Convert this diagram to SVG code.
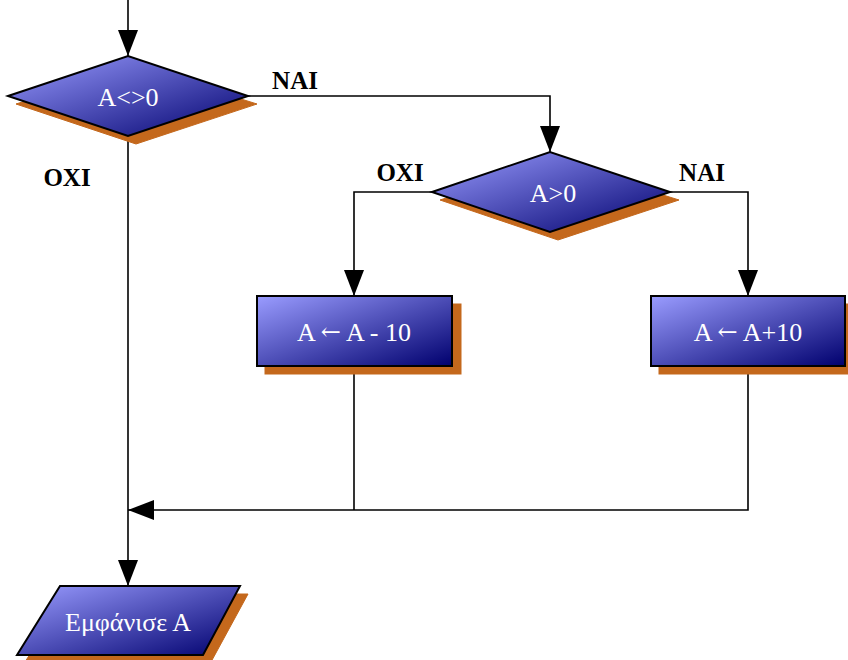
<svg xmlns="http://www.w3.org/2000/svg" width="848" height="660" viewBox="0 0 848 660">
<style>
.shadow{fill:#c4681c;stroke:#c4681c;stroke-width:1}
.shape{fill:url(#g);stroke:#000;stroke-width:2}
.lbl{font-family:"Liberation Serif",serif;font-size:26px;fill:#fff;text-anchor:middle;dominant-baseline:central}
.ar{font-family:"DejaVu Serif",serif;font-size:24px}
.yn{font-family:"Liberation Serif",serif;font-size:25px;font-weight:bold;fill:#000;text-anchor:middle;dominant-baseline:central}
.conn{fill:none;stroke:#000;stroke-width:1.6}
</style>
<defs>
<linearGradient id="g" x1="0" y1="0" x2="1" y2="1">
<stop offset="0" stop-color="#9a9cff"/>
<stop offset="1" stop-color="#00006e"/>
</linearGradient>
<marker id="arr" markerUnits="userSpaceOnUse" markerWidth="28" markerHeight="20" refX="26" refY="10" orient="auto">
<path d="M0,0 L26,10 L0,20 Z" fill="#000"/>
</marker>
</defs>
<g id="connectors">
<path class="conn" d="M128,0 V56" marker-end="url(#arr)"/>
<path class="conn" d="M248,96 H550 V152" marker-end="url(#arr)"/>
<path class="conn" d="M128,136 V586" marker-end="url(#arr)"/>
<path class="conn" d="M432,192 H354 V296" marker-end="url(#arr)"/>
<path class="conn" d="M670,192 H748 V296" marker-end="url(#arr)"/>
<path class="conn" d="M354,366 V510"/>
<path class="conn" d="M748,366 V510 H128" marker-end="url(#arr)"/>
</g>
<g id="d1">
<path class="shadow" d="M16,104 L136,66 L257,104 L136,144 Z"/>
<path class="shape" d="M8,96 L128,56 L248,96 L128,136 Z"/>
<text class="lbl" x="128" y="97">A&lt;&gt;0</text>
</g>
<g id="label-nai1"><text class="yn" x="295" y="80">NAI</text></g>
<g id="label-oxi1"><text class="yn" x="67" y="177">OXI</text></g>
<g id="d2">
<path class="shadow" d="M440,200 L558,162 L679,200 L558,240 Z"/>
<path class="shape" d="M432,192 L550,152 L670,192 L550,232 Z"/>
<text class="lbl" x="553" y="193">A&gt;0</text>
</g>
<g id="label-oxi2"><text class="yn" x="400" y="172">OXI</text></g>
<g id="label-nai2"><text class="yn" x="702" y="172">NAI</text></g>
<g id="r1">
<rect class="shadow" x="265" y="304" width="196" height="70"/>
<rect class="shape" x="257" y="296" width="195" height="70"/>
<text class="lbl" x="354" y="332">A <tspan class="ar">←</tspan> A - 10</text>
</g>
<g id="r2">
<rect class="shadow" x="659" y="304" width="196" height="70"/>
<rect class="shape" x="651" y="296" width="194" height="70"/>
<text class="lbl" x="748" y="332">A <tspan class="ar">←</tspan> A+10</text>
</g>
<g id="out">
<path class="shadow" d="M68,594 L248,594 L211,662 L25,662 Z"/>
<path class="shape" d="M60,586 L240,586 L203,655 L17,655 Z"/>
<text class="lbl" x="128" y="622">Εμφάνισε Α</text>
</g>
</svg>
